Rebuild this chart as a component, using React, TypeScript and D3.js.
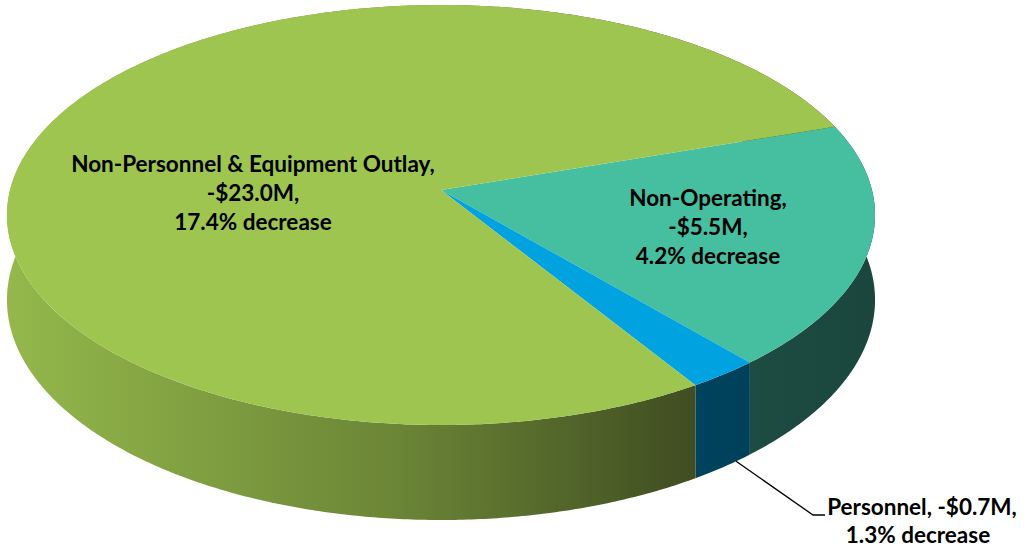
import React from "react";
import * as d3 from "d3";

const categories = ["Non-Operating", "Personnel", "Non-Personnel & Equipment Outlay"];
const amounts = [5.5, 0.7, 23.0]; // $M decrease
const pctDecrease = [4.2, 1.3, 17.4];
const topColors = ["#45BFA0", "#00A3E0", "#9EC550"];

const W = 1027;
const H = 554;
// perspective ellipse parameters
const CX = 441;
const CY = 190;
const A = 3620;
const B = 1739;
const D = 8.4;
const E = 703;
const START_DEG = -18.5;

function project(X: number, Z: number, e: number): [number, number] {
  return [CX + (A * X) / (D - Z), CY + (B * Z + e) / (D - Z)];
}
function onCircle(deg: number, e: number): [number, number] {
  const r = (deg * Math.PI) / 180;
  return project(Math.cos(r), Math.sin(r), e);
}

export default function App() {
  const pie = d3
    .pie<number>()
    .sort(null)
    .value((v) => v)
    .startAngle((START_DEG * Math.PI) / 180)
    .endAngle(((START_DEG + 360) * Math.PI) / 180);
  const arcs = pie(amounts);
  const line = d3.line<[number, number]>();

  const slices = arcs.map((a, i) => {
    const a0 = (a.startAngle * 180) / Math.PI;
    const a1 = (a.endAngle * 180) / Math.PI;
    const n = Math.max(4, Math.ceil((a1 - a0) / 0.5));
    const top: [number, number][] = [];
    const bot: [number, number][] = [];
    for (let k = 0; k <= n; k++) {
      const t = a0 + ((a1 - a0) * k) / n;
      top.push(onCircle(t, 0));
      bot.push(onCircle(t, E));
    }
    const topPath = line([project(0, 0, 0), ...top]) + "Z";
    const sidePath = line([...top, ...bot.slice().reverse()]) + "Z";
    return { i, a0, a1, topPath, sidePath };
  });

  // leader for Personnel
  const pIdx = 1;
  const pMid = (slices[pIdx].a0 + slices[pIdx].a1) / 2 - 2;
  const lp = onCircle(pMid, E);

  const fmt = (v: number) => `-$${v.toFixed(1)}M,`;
  const labelFont = "Lato, 'Open Sans', sans-serif";

  return (
    <svg width={W} height={H} style={{ position: "absolute", left: 0, top: 0 }}>
      <defs>
        <linearGradient id="gSide" gradientUnits="userSpaceOnUse" x1={7} y1={0} x2={875} y2={0}>
          <stop offset="0" stopColor="#94B84B" />
          <stop offset="0.45" stopColor="#6B8536" />
          <stop offset="0.78" stopColor="#414F22" />
          <stop offset="1" stopColor="#303B18" />
        </linearGradient>
        <linearGradient id="tSide" gradientUnits="userSpaceOnUse" x1={7} y1={0} x2={875} y2={0}>
          <stop offset="0" stopColor="#2A6A5C" />
          <stop offset="0.8" stopColor="#1E4E44" />
          <stop offset="1" stopColor="#1A463D" />
        </linearGradient>
        <linearGradient id="bSide" gradientUnits="userSpaceOnUse" x1={7} y1={0} x2={875} y2={0}>
          <stop offset="0" stopColor="#005A7A" />
          <stop offset="1" stopColor="#003D55" />
        </linearGradient>
      </defs>
      <rect width={W} height={H} fill="#ffffff" />
      {slices.map((s) => (
        <path key={"s" + s.i} d={s.sidePath} fill={["url(#tSide)", "url(#bSide)", "url(#gSide)"][s.i]} />
      ))}
      {slices.map((s) => (
        <path key={"t" + s.i} d={s.topPath} fill={topColors[s.i]} />
      ))}
      <polyline
        points={`${lp[0]},${lp[1]} 813,515 825,515`}
        fill="none"
        stroke="#000"
        strokeWidth={1.3}
      />
      <g fontFamily={labelFont} fontWeight="bold" fontSize={22.5} fill="#000" textAnchor="middle">
        <text x={253} y={172}>{categories[2]},</text>
        <text x={253} y={201}>{fmt(amounts[2])}</text>
        <text x={253} y={230}>{pctDecrease[2]}% decrease</text>

        <text x={708} y={206}>{categories[0]},</text>
        <text x={708} y={235}>{fmt(amounts[0])}</text>
        <text x={708} y={264}>{pctDecrease[0]}% decrease</text>

        <text x={922} y={515}>{categories[1]}, {fmt(amounts[1])}</text>
        <text x={918} y={543}>{pctDecrease[1]}% decrease</text>
      </g>
    </svg>
  );
}
